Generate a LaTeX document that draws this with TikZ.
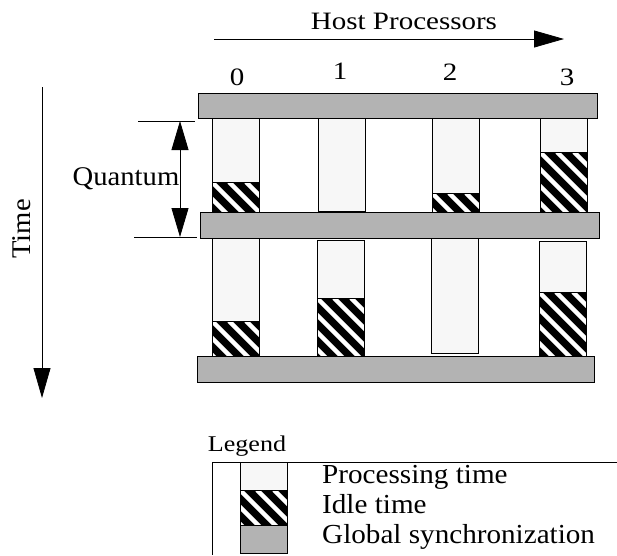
\documentclass[tikz,border=0pt]{standalone}
\usepackage{fontspec}
\setmainfont{Liberation Serif}[FakeStretch=1.06]
\newfontfamily\hdrfont{Liberation Serif}[FakeStretch=1.16]
\usetikzlibrary{arrows.meta}

\definecolor{procgray}{HTML}{F7F7F7}
\definecolor{syncgray}{HTML}{B3B3B3}

\tikzset{
  syncbar/.style={draw, fill=syncgray, line width=0.9pt},
  procbox/.style={draw, fill=procgray, line width=0.9pt},
  idleedge/.style={draw, line width=0.9pt},
  stripe/.style={white, line width=4.5pt},
  bigarrow/.style={-{Triangle[length=30pt,width=17pt]}, line width=0.8pt},
  quantumarrow/.style={{Triangle[length=29pt,width=17pt]}-{Triangle[length=29pt,width=17pt]}, line width=0.8pt},
  tick/.style={line width=0.8pt},
  hdrlabel/.style={font=\hdrfont\fontsize{25}{30}\selectfont, inner sep=0pt},
  bodylabel/.style={font=\fontsize{27}{32}\selectfont, inner sep=0pt},
  keylabel/.style={font=\fontsize{27.5}{32}\selectfont, inner sep=0pt, anchor=base west},
}

% black box with white diagonal stripes
\newcommand\idlebox[4]{%
  \fill[black] (#1,#2) rectangle (#3,#4);
  \begin{scope}
    \clip (#1,#2) rectangle (#3,#4);
    \foreach \k in {-68,-51,...,51}
      \draw[stripe] (#1+\k,#2) -- ++(80,80);
  \end{scope}
  \draw[idleedge] (#1,#2) rectangle (#3,#4);
}

\begin{document}
\begin{tikzpicture}[x=1pt, y=-1pt]
  \useasboundingbox (0,0) rectangle (617,555);

  % axes
  \node[hdrlabel, anchor=base] (hosts) at (404,29) {Host Processors};
  \coordinate (hosts start) at (214,39);
  \coordinate (hosts end) at (564,39);
  \draw[bigarrow] (hosts start) -- (hosts end);

  \node[hdrlabel, anchor=base] (p0) at (237,85) {0};
  \node[hdrlabel, anchor=base] (p1) at (340,79) {1};
  \node[hdrlabel, anchor=base] (p2) at (450,80) {2};
  \node[hdrlabel, anchor=base] (p3) at (567,85) {3};

  \node[bodylabel, rotate=90] (time) at (22,229) {Time};
  \coordinate (time start) at (42,87);
  \coordinate (time end) at (42,398);
  \draw[bigarrow] (time start) -- (time end);

  % quantum
  \coordinate (q top) at (180,121);
  \coordinate (q bottom) at (180,237);
  \draw[tick] (138,121) -- (195,121);
  \draw[tick] (134,237) -- (197,237);
  \draw[quantumarrow] (q top) -- (q bottom);
  \node[bodylabel, anchor=base] (quantum) at (126,185) {Quantum};

  % first quantum
  \draw[procbox] (212,118) rectangle (259,182);
  \idlebox{212}{182}{259}{212}
  \draw[procbox] (318,118) rectangle (365,211);
  \draw[procbox] (432,118) rectangle (479,193);
  \idlebox{432}{193}{479}{212}
  \draw[procbox] (540,117) rectangle (587,152);
  \idlebox{540}{152}{587}{212}

  % second quantum
  \draw[procbox] (212,238) rectangle (259,321);
  \idlebox{212}{321}{259}{356}
  \draw[procbox] (317,240) rectangle (364,298);
  \idlebox{317}{298}{364}{356}
  \draw[procbox] (431,238) rectangle (478,353);
  \draw[procbox] (539,241) rectangle (586,292);
  \idlebox{539}{292}{586}{356}

  % global synchronization
  \draw[syncbar] (198,93) rectangle (597,118);
  \draw[syncbar] (200,212) rectangle (599,238);
  \draw[syncbar] (197,356) rectangle (594,382);

  % legend
  \node[hdrlabel, anchor=base, font=\hdrfont\fontsize{22.5}{27}\selectfont] (legend) at (247,451) {Legend};
  \draw[tick] (617,462) -- (212,462) -- (212,555);
  \draw[procbox] (240,462) rectangle (287,490);
  \idlebox{240}{490}{287}{525}
  \draw[syncbar] (240,525) rectangle (287,553);
  \node[keylabel] (key proc) at (322,483) {Processing time};
  \node[keylabel] (key idle) at (322,513) {Idle time};
  \node[keylabel] (key sync) at (322,543) {Global synchronization};
\end{tikzpicture}
\end{document}
